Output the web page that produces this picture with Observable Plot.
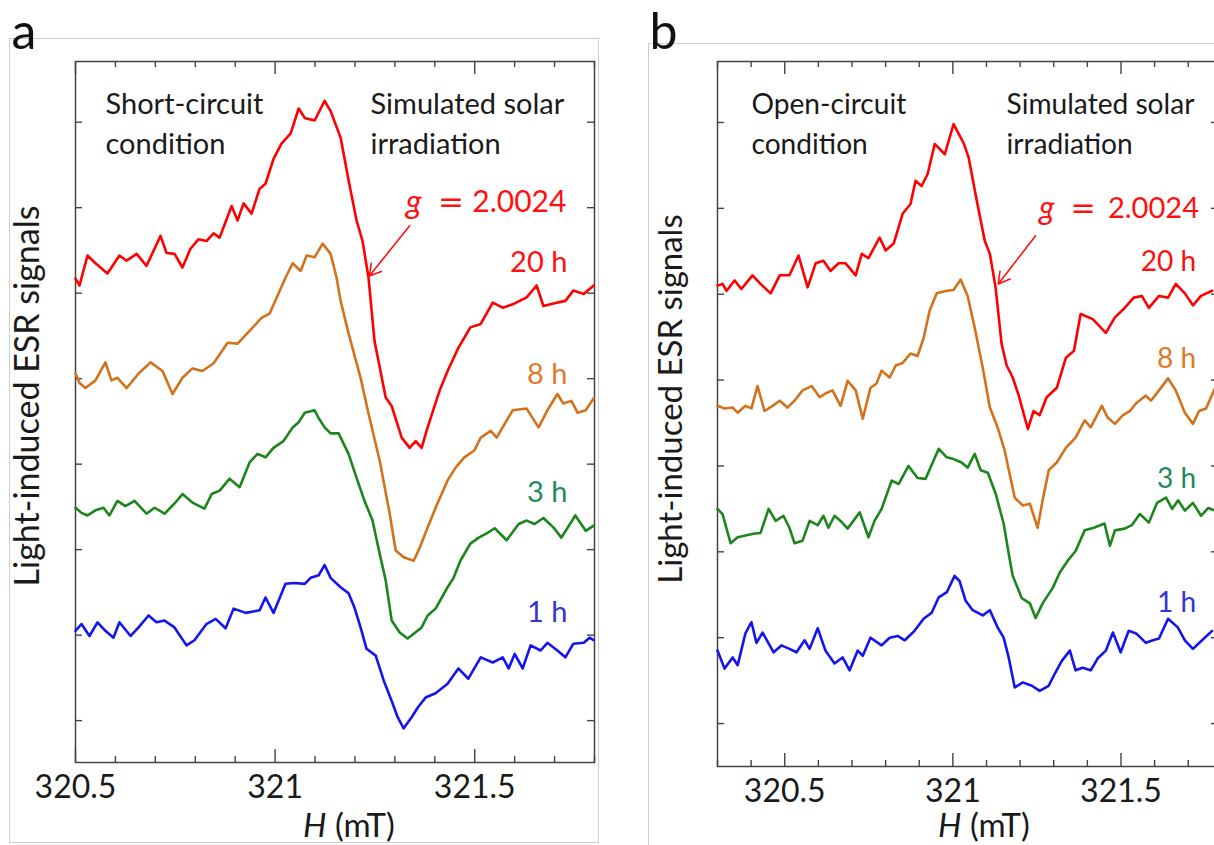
<!DOCTYPE html>
<html>
<head>
<meta charset="utf-8">
<script src="https://cdn.jsdelivr.net/npm/d3@7"></script>
<script src="https://cdn.jsdelivr.net/npm/@observablehq/plot@0.6"></script>
<style>
  html, body { margin: 0; padding: 0; background: #fff; width: 1214px; height: 845px; overflow: hidden; }
  #fig { position: relative; width: 1214px; height: 845px; overflow: hidden; }
  .box { position: absolute; border: 1px solid #cfcfcf; }
  .panel { position: absolute; top: 0; }
</style>
</head>
<body>
<div id="fig">
  <div class="box" style="left:9px;top:38px;width:588px;height:803px"></div>
  <div class="box" style="left:648px;top:43px;width:620px;height:830px"></div>
  <div class="panel" id="pa" style="left:0px"></div>
  <div class="panel" id="pb" style="left:630px"></div>
</div>
<script>
// ---- shared axis values and series styling ----
const xTicksMajor = [320.5, 321, 321.5];
const xTickLabels = ["320.5", "321", "321.5"];
const yTicks = [0, 1, 2, 3, 4, 5, 6, 7];
const hours = ["20 h", "8 h", "3 h", "1 h"];
const lineColors = ["#ff0000", "#d2721c", "#1c861c", "#1414ee"];
const labelColors = ["#ff1010", "#e07a26", "#22895c", "#3434d6"];

// ---- (a) short-circuit condition: field H (mT) and ESR signal (a.u., offset per curve) ----
const hA20 = [320.500, 320.510, 320.530, 320.550, 320.580, 320.610, 320.628, 320.653, 320.678, 320.713, 320.728, 320.748, 320.768, 320.788, 320.808, 320.828, 320.846, 320.861, 320.891, 320.906, 320.921, 320.941, 320.961, 320.976, 320.996, 321.016, 321.039, 321.059, 321.074, 321.099, 321.124, 321.139, 321.164, 321.184, 321.204, 321.219, 321.234, 321.249, 321.277, 321.292, 321.317, 321.337, 321.352, 321.367, 321.382, 321.412, 321.432, 321.459, 321.489, 321.515, 321.545, 321.570, 321.600, 321.630, 321.655, 321.672, 321.697, 321.727, 321.747, 321.773, 321.798];
const sA20 = [5.17, 5.09, 5.44, 5.35, 5.23, 5.44, 5.38, 5.46, 5.32, 5.67, 5.47, 5.46, 5.30, 5.52, 5.63, 5.61, 5.70, 5.65, 6.02, 5.85, 6.05, 5.93, 6.22, 6.28, 6.57, 6.75, 6.87, 7.16, 7.05, 7.02, 7.25, 7.13, 6.82, 6.32, 5.85, 5.61, 5.18, 4.44, 3.78, 3.68, 3.31, 3.19, 3.27, 3.19, 3.43, 3.86, 4.09, 4.36, 4.60, 4.64, 4.89, 4.83, 4.88, 4.95, 5.09, 4.85, 4.88, 4.91, 5.03, 4.99, 5.09];

const hA8 = [320.500, 320.510, 320.525, 320.550, 320.575, 320.590, 320.605, 320.628, 320.658, 320.688, 320.718, 320.743, 320.768, 320.793, 320.818, 320.846, 320.881, 320.906, 320.936, 320.966, 320.986, 321.006, 321.026, 321.044, 321.064, 321.079, 321.099, 321.119, 321.139, 321.154, 321.164, 321.184, 321.214, 321.234, 321.262, 321.287, 321.302, 321.322, 321.347, 321.362, 321.382, 321.402, 321.432, 321.452, 321.474, 321.499, 321.515, 321.540, 321.555, 321.570, 321.595, 321.630, 321.660, 321.682, 321.707, 321.722, 321.742, 321.758, 321.778, 321.798];
const sA8 = [4.06, 3.95, 3.89, 3.98, 4.19, 3.98, 4.01, 3.89, 4.06, 4.19, 4.09, 3.82, 4.01, 4.12, 4.09, 4.18, 4.42, 4.41, 4.56, 4.71, 4.76, 4.97, 5.18, 5.35, 5.26, 5.44, 5.42, 5.58, 5.46, 5.18, 4.91, 4.53, 4.01, 3.59, 3.04, 2.42, 1.99, 1.91, 1.87, 2.02, 2.26, 2.49, 2.81, 2.96, 3.08, 3.16, 3.31, 3.39, 3.31, 3.43, 3.63, 3.65, 3.43, 3.63, 3.82, 3.71, 3.74, 3.60, 3.63, 3.77];

const hA3 = [320.500, 320.515, 320.530, 320.550, 320.570, 320.585, 320.605, 320.625, 320.648, 320.678, 320.698, 320.723, 320.748, 320.768, 320.793, 320.823, 320.841, 320.861, 320.886, 320.911, 320.936, 320.956, 320.976, 320.996, 321.021, 321.044, 321.059, 321.074, 321.099, 321.109, 321.124, 321.139, 321.159, 321.184, 321.204, 321.224, 321.244, 321.262, 321.277, 321.292, 321.312, 321.332, 321.367, 321.382, 321.402, 321.432, 321.447, 321.464, 321.489, 321.510, 321.530, 321.550, 321.580, 321.610, 321.630, 321.650, 321.672, 321.697, 321.717, 321.752, 321.778, 321.798];
const sA3 = [2.49, 2.43, 2.40, 2.46, 2.49, 2.40, 2.57, 2.51, 2.57, 2.42, 2.49, 2.42, 2.54, 2.65, 2.55, 2.48, 2.65, 2.69, 2.83, 2.73, 3.02, 3.12, 3.08, 3.19, 3.27, 3.43, 3.49, 3.60, 3.63, 3.54, 3.43, 3.36, 3.36, 3.12, 2.84, 2.57, 2.34, 1.95, 1.64, 1.17, 1.03, 0.96, 1.09, 1.23, 1.31, 1.56, 1.67, 1.87, 2.07, 2.14, 2.19, 2.25, 2.11, 2.30, 2.34, 2.30, 2.37, 2.26, 2.14, 2.40, 2.22, 2.28];

const hA1 = [320.500, 320.515, 320.535, 320.555, 320.575, 320.595, 320.610, 320.638, 320.658, 320.683, 320.703, 320.723, 320.748, 320.778, 320.798, 320.828, 320.851, 320.876, 320.896, 320.926, 320.961, 320.976, 320.996, 321.026, 321.049, 321.074, 321.089, 321.109, 321.124, 321.139, 321.164, 321.184, 321.199, 321.214, 321.229, 321.252, 321.272, 321.292, 321.307, 321.322, 321.342, 321.357, 321.377, 321.402, 321.432, 321.459, 321.484, 321.515, 321.545, 321.570, 321.585, 321.600, 321.620, 321.640, 321.665, 321.682, 321.707, 321.727, 321.747, 321.773, 321.788, 321.798];
const sA1 = [1.05, 1.13, 0.99, 1.15, 1.05, 0.97, 1.15, 0.99, 1.09, 1.23, 1.15, 1.17, 1.09, 0.88, 0.94, 1.13, 1.19, 1.08, 1.31, 1.26, 1.29, 1.44, 1.26, 1.60, 1.61, 1.60, 1.67, 1.70, 1.82, 1.67, 1.56, 1.49, 1.32, 1.09, 0.84, 0.76, 0.47, 0.23, 0.04, -0.09, 0.04, 0.15, 0.27, 0.32, 0.43, 0.61, 0.49, 0.74, 0.68, 0.74, 0.61, 0.78, 0.61, 0.88, 0.82, 0.91, 0.82, 0.74, 0.90, 0.91, 0.97, 0.94];

// ---- (b) open-circuit condition ----
const hB20 = [320.300, 320.315, 320.327, 320.351, 320.371, 320.404, 320.428, 320.458, 320.485, 320.514, 320.541, 320.568, 320.592, 320.615, 320.636, 320.660, 320.681, 320.711, 320.729, 320.749, 320.782, 320.800, 320.824, 320.851, 320.874, 320.889, 320.907, 320.925, 320.946, 320.976, 321.002, 321.032, 321.047, 321.071, 321.095, 321.110, 321.127, 321.145, 321.160, 321.178, 321.196, 321.223, 321.240, 321.258, 321.279, 321.309, 321.336, 321.360, 321.380, 321.416, 321.455, 321.482, 321.511, 321.538, 321.562, 321.583, 321.613, 321.640, 321.663, 321.690, 321.714, 321.738, 321.771];
const sB20 = [5.10, 5.12, 5.04, 5.16, 5.06, 5.22, 5.12, 5.01, 5.22, 5.22, 5.45, 5.08, 5.36, 5.39, 5.27, 5.36, 5.36, 5.22, 5.47, 5.42, 5.66, 5.51, 5.59, 5.94, 6.05, 6.32, 6.26, 6.40, 6.75, 6.63, 6.98, 6.76, 6.59, 6.09, 5.62, 5.47, 5.08, 4.42, 4.17, 4.03, 3.82, 3.43, 3.64, 3.59, 3.80, 3.91, 4.26, 4.34, 4.77, 4.71, 4.55, 4.73, 4.84, 4.96, 4.98, 4.84, 4.98, 4.96, 5.12, 5.01, 4.87, 4.98, 5.04];

const hB8 = [320.300, 320.321, 320.345, 320.360, 320.383, 320.401, 320.419, 320.440, 320.464, 320.485, 320.508, 320.529, 320.553, 320.580, 320.604, 320.624, 320.642, 320.666, 320.687, 320.711, 320.732, 320.755, 320.773, 320.788, 320.812, 320.830, 320.851, 320.874, 320.895, 320.913, 320.931, 320.952, 320.982, 321.002, 321.023, 321.044, 321.065, 321.089, 321.110, 321.133, 321.154, 321.184, 321.208, 321.229, 321.252, 321.267, 321.285, 321.309, 321.336, 321.365, 321.392, 321.410, 321.443, 321.461, 321.482, 321.505, 321.527, 321.545, 321.574, 321.589, 321.613, 321.640, 321.663, 321.690, 321.714, 321.732, 321.753, 321.780];
const sB8 = [3.70, 3.67, 3.68, 3.62, 3.70, 3.67, 3.93, 3.64, 3.70, 3.76, 3.68, 3.76, 3.88, 3.93, 3.80, 3.85, 3.88, 3.70, 3.99, 3.88, 3.55, 3.91, 3.96, 4.11, 4.03, 4.17, 4.20, 4.31, 4.28, 4.49, 4.81, 5.01, 5.04, 5.05, 5.17, 4.98, 4.61, 4.14, 3.68, 3.45, 3.18, 2.63, 2.54, 2.56, 2.28, 2.60, 2.95, 3.04, 3.21, 3.33, 3.53, 3.45, 3.70, 3.56, 3.49, 3.59, 3.64, 3.73, 3.82, 3.76, 3.88, 4.02, 3.88, 3.62, 3.49, 3.64, 3.67, 3.91];

const hB3 = [320.300, 320.315, 320.339, 320.360, 320.383, 320.407, 320.428, 320.452, 320.473, 320.496, 320.514, 320.529, 320.553, 320.574, 320.598, 320.615, 320.630, 320.648, 320.666, 320.687, 320.723, 320.749, 320.767, 320.788, 320.818, 320.839, 320.868, 320.895, 320.919, 320.940, 320.958, 320.982, 321.002, 321.026, 321.044, 321.065, 321.083, 321.104, 321.127, 321.151, 321.166, 321.178, 321.205, 321.229, 321.246, 321.267, 321.297, 321.318, 321.342, 321.365, 321.392, 321.419, 321.451, 321.467, 321.482, 321.511, 321.532, 321.556, 321.583, 321.607, 321.634, 321.652, 321.670, 321.690, 321.714, 321.738, 321.759, 321.780];
const sB3 = [2.50, 2.44, 2.10, 2.17, 2.19, 2.21, 2.22, 2.50, 2.36, 2.42, 2.28, 2.10, 2.13, 2.36, 2.31, 2.42, 2.28, 2.42, 2.36, 2.27, 2.46, 2.17, 2.36, 2.50, 2.83, 2.79, 3.00, 2.86, 2.85, 3.04, 3.20, 3.10, 3.08, 3.04, 2.98, 3.14, 2.95, 2.92, 2.68, 2.33, 1.98, 1.72, 1.46, 1.40, 1.23, 1.40, 1.58, 1.76, 1.90, 2.01, 2.25, 2.28, 2.33, 2.07, 2.25, 2.27, 2.31, 2.44, 2.34, 2.57, 2.63, 2.50, 2.60, 2.48, 2.57, 2.42, 2.51, 2.48];

const hB1 = [320.300, 320.321, 320.345, 320.360, 320.383, 320.401, 320.416, 320.434, 320.467, 320.490, 320.514, 320.535, 320.559, 320.574, 320.598, 320.621, 320.648, 320.672, 320.693, 320.717, 320.732, 320.755, 320.788, 320.812, 320.836, 320.857, 320.886, 320.913, 320.937, 320.958, 320.982, 321.005, 321.020, 321.038, 321.059, 321.089, 321.110, 321.133, 321.151, 321.166, 321.184, 321.208, 321.235, 321.258, 321.285, 321.303, 321.324, 321.348, 321.365, 321.386, 321.410, 321.431, 321.455, 321.476, 321.499, 321.523, 321.545, 321.574, 321.595, 321.613, 321.640, 321.669, 321.690, 321.714, 321.741, 321.771];
const sB1 = [0.85, 0.64, 0.77, 0.68, 1.05, 1.18, 0.94, 1.06, 0.83, 0.91, 0.87, 0.83, 0.97, 0.87, 1.11, 0.85, 0.70, 0.77, 0.62, 0.85, 0.79, 1.00, 0.91, 1.00, 1.02, 0.97, 1.08, 1.22, 1.29, 1.47, 1.53, 1.72, 1.66, 1.43, 1.32, 1.26, 1.32, 1.12, 1.00, 0.77, 0.42, 0.48, 0.44, 0.38, 0.44, 0.58, 0.73, 0.85, 0.62, 0.65, 0.62, 0.76, 0.85, 1.06, 0.83, 1.08, 1.05, 0.94, 0.97, 0.99, 1.22, 1.12, 0.97, 0.87, 0.97, 1.08];

const FONT = "Lato, 'Noto Sans', sans-serif";
const INK = "#1a1a1a";
const AXIS = "#444";
const RED = "#ff1010";
const X_TITLE = "H (mT)";

function toRows(H, S) {
  return H.map((h, i) => ({H: h, signal: S[i]}));
}

function esrPanel(p) {
  const [x0, x1] = p.xDomain;
  const [y0, y1] = p.yDomain;
  const k = p.fontScale;
  const innerW = p.width - p.marginLeft - p.marginRight;
  const innerH = p.height - p.marginTop - p.marginBottom;
  // tick lengths in pixels expressed in data units of each scale
  const dy = px => px * (y1 - y0) / innerH;
  const dx = px => px * (x1 - x0) / innerW;
  const minor = d3.range(Math.ceil(x0 * 10 - 1e-6), Math.floor(x1 * 10 + 1e-6) + 1)
    .map(d => d / 10)
    .filter(t => !xTicksMajor.some(m => Math.abs(m - t) < 1e-6));
  const tk = {stroke: AXIS, strokeWidth: 1.4};

  const marks = [
    Plot.frame({stroke: AXIS, strokeWidth: 1.5}),
    // inward ticks on all four sides of the frame
    Plot.ruleX(minor, {...tk, x: d => d, y1: y0, y2: y0 + dy(6)}),
    Plot.ruleX(minor, {...tk, x: d => d, y1: y1 - dy(6), y2: y1}),
    Plot.ruleX(xTicksMajor, {...tk, x: d => d, y1: y0, y2: y0 + dy(13)}),
    Plot.ruleX(xTicksMajor, {...tk, x: d => d, y1: y1 - dy(13), y2: y1}),
    Plot.ruleY(yTicks, {...tk, y: d => d, x1: x0, x2: x0 + dx(7)}),
    Plot.ruleY(yTicks, {...tk, y: d => d, x1: x1 - dx(7), x2: x1}),
    // tick labels below the frame
    Plot.axisX({
      anchor: "bottom", ticks: xTicksMajor, tickSize: 0, tickPadding: 13,
      tickFormat: d => xTickLabels[xTicksMajor.indexOf(d)],
      fontSize: 32, fill: INK, label: null
    })
  ];

  // the four ESR traces
  p.series.forEach(([H, S], i) => {
    marks.push(Plot.line(toRows(H, S), {
      x: "H", y: "signal", stroke: lineColors[i], strokeWidth: 2.6,
      strokeLinejoin: "round", strokeLinecap: "round"
    }));
  });

  // irradiation time next to each trace
  hours.forEach((t, i) => {
    marks.push(Plot.text([t], {
      text: d => d, x: p.labelX, y: p.labelY[i], textAnchor: "end", lineAnchor: "middle",
      fill: labelColors[i], fontSize: 29 * k, fontFamily: FONT
    }));
  });

  // g-factor annotation and arrow to the zero crossing of the 20 h trace
  marks.push(
    Plot.text(["g"], {text: d => d, x: p.g.x, y: p.g.y, textAnchor: "start", lineAnchor: "middle",
      fill: RED, fontSize: 33 * k, fontStyle: "italic", fontFamily: FONT}),
    Plot.text(["="], {text: d => d, x: p.g.xEq, y: p.g.y, textAnchor: "start", lineAnchor: "middle",
      fill: RED, fontSize: 31 * k, fontFamily: "'DejaVu Sans', sans-serif"}),
    Plot.text(["2.0024"], {text: d => d, x: p.g.xNum, y: p.g.y, textAnchor: "start", lineAnchor: "middle",
      fill: RED, fontSize: 30 * k, fontFamily: FONT}),
    Plot.arrow([p.arrow], {x1: "x1", y1: "y1", x2: "x2", y2: "y2",
      stroke: RED, strokeWidth: 1.6, headLength: 12})
  );

  // condition notes in the top corners
  const note = (txt, ddx, ddy) => Plot.text([txt], {
    text: d => d, frameAnchor: "top-left", dx: ddx, dy: ddy, textAnchor: "start", lineAnchor: "middle",
    fill: INK, fontSize: 29 * k, fontFamily: FONT
  });
  marks.push(
    note(p.condition[0], p.condDx, 43),
    note(p.condition[1], p.condDx, 83),
    note("Simulated solar", p.irrDx, 43),
    note("irradiation", p.irrDx, 83)
  );

  // axis titles and panel tag
  marks.push(
    Plot.text(["Light-induced ESR signals"], {
      text: d => d, frameAnchor: "left", rotate: -90, textAnchor: "middle", lineAnchor: "middle",
      dx: p.yLabelDx, dy: p.yLabelDy, fill: INK, fontSize: 34 * k, fontFamily: FONT
    }),
    Plot.text([X_TITLE], {text: d => d, frameAnchor: "bottom", textAnchor: "middle", lineAnchor: "middle",
      dx: p.xTitleDx, dy: p.xTitleDy, fill: INK, fontSize: 33, fontFamily: FONT}),
    Plot.text([p.tag], {text: d => d, frameAnchor: "top-left", textAnchor: "start", lineAnchor: "middle",
      dx: p.tagDx, dy: -29, fill: "#111", fontSize: 50, fontFamily: FONT})
  );

  const svg = Plot.plot({
    width: p.width, height: p.height,
    marginLeft: p.marginLeft, marginRight: p.marginRight,
    marginTop: p.marginTop, marginBottom: p.marginBottom,
    x: {domain: p.xDomain},
    y: {domain: p.yDomain, axis: null},
    style: {background: "transparent", fontFamily: FONT, overflow: "visible", maxWidth: "none"},
    marks
  });

  // set the field symbol H in italics within the axis title
  d3.select(svg).selectAll("text")
    .filter(function () { return this.textContent === X_TITLE; })
    .each(function () {
      const t = d3.select(this).text(null);
      t.append("tspan").attr("font-style", "italic").text("H");
      t.append("tspan").text(" (mT)");
    });

  return svg;
}

const panelA = esrPanel({
  width: 610, height: 845, marginLeft: 75, marginRight: 16, marginTop: 61, marginBottom: 83,
  xDomain: [320.5, 321.8], yDomain: [-0.49, 7.71], fontScale: 1,
  series: [[hA20, sA20], [hA8, sA8], [hA3, sA3], [hA1, sA1]],
  labelX: 321.732, labelY: [5.36, 4.05, 2.67, 1.26],
  g: {x: 321.327, xEq: 321.408, xNum: 321.494, y: 6.06},
  arrow: {x1: 321.337, y1: 5.79, x2: 321.236, y2: 5.20},
  condition: ["Short-circuit", "condition"], condDx: 30, irrDx: 295,
  yLabelDx: -47, yLabelDy: -16, xTitleDx: 14, xTitleDy: 64,
  tag: "a", tagDx: -64
});

const panelB = esrPanel({
  width: 610, height: 845, marginLeft: 87, marginRight: 22, marginTop: 61, marginBottom: 79,
  xDomain: [320.3, 321.79], yDomain: [-0.5, 7.71], fontScale: 0.97,
  series: [[hB20, sB20], [hB8, sB8], [hB3, sB3], [hB1, sB1]],
  labelX: 321.724, labelY: [5.37, 4.25, 2.85, 1.41],
  g: {x: 321.256, xEq: 321.350, xNum: 321.461, y: 6.00},
  arrow: {x1: 321.246, y1: 5.68, x2: 321.135, y2: 5.12},
  condition: ["Open-circuit", "condition"], condDx: 34, irrDx: 289,
  yLabelDx: -46, yLabelDy: -15, xTitleDx: 16, xTitleDy: 60,
  tag: "b", tagDx: -68
});

document.getElementById("pa").appendChild(panelA);
document.getElementById("pb").appendChild(panelB);
</script>
</body>
</html>
